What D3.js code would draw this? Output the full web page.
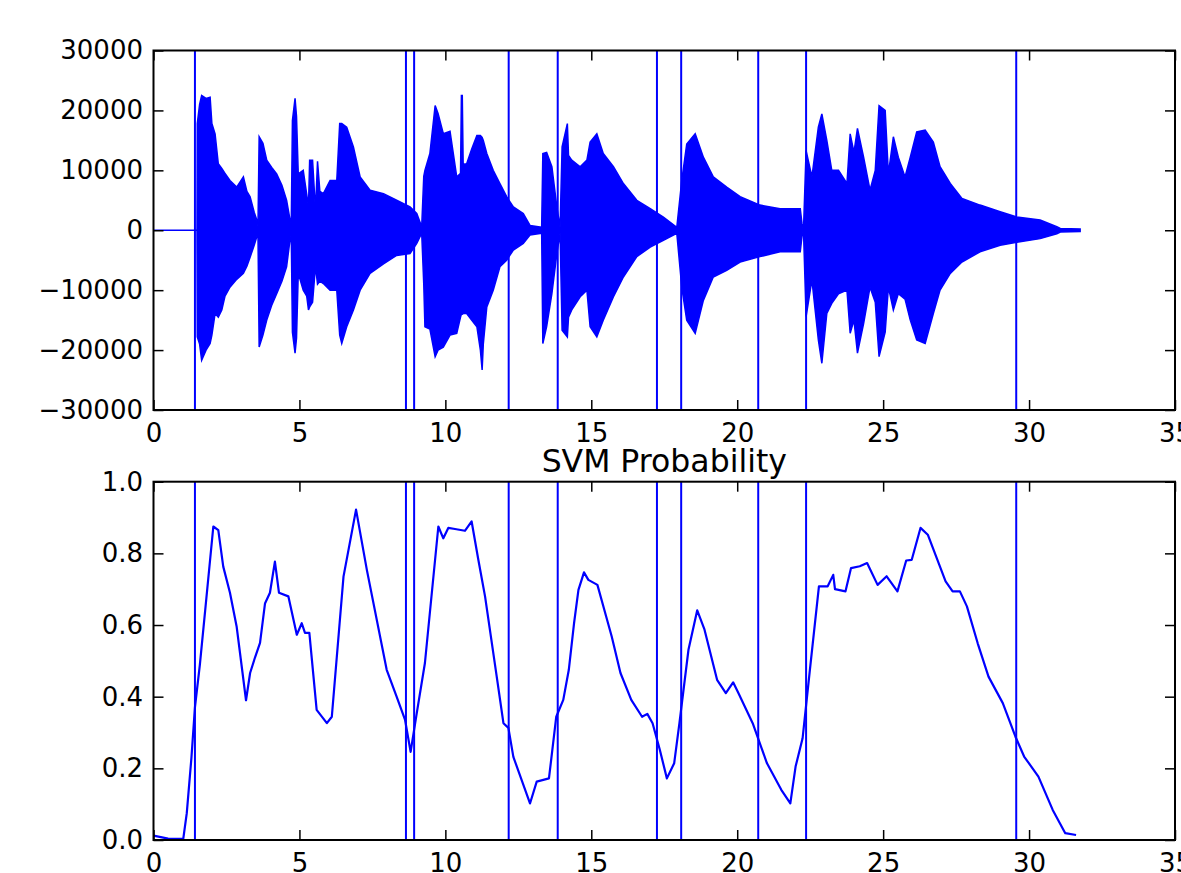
<!DOCTYPE html>
<html>
<head>
<meta charset="utf-8">
<script src="https://cdn.jsdelivr.net/npm/d3@7"></script>
<style>
  body { margin: 0; background: #fff; }
  svg { display: block; font-family: "DejaVu Sans", sans-serif; }
  .tick text { font-size: 26px; fill: #000; }
  .tick line { stroke: #000; stroke-width: 1.5; }
</style>
</head>
<body>
<svg></svg>
<script>
const width = 1181, height = 873;

// tick values
const xTicks = [0, 5, 10, 15, 20, 25, 30, 35];
const ampTicks = [-30000, -20000, -10000, 0, 10000, 20000, 30000];
const probTicks = [0, 0.2, 0.4, 0.6, 0.8, 1.0];

// detected segment boundaries (seconds)
const boundaries = [1.42, 8.65, 8.93, 12.17, 13.85, 17.25, 18.08, 20.72, 22.36, 29.56];

// waveform envelope (seconds, max, min)
const waveTime = [0, 1.49, 1.50, 1.58, 1.65, 1.80, 1.94, 2.00, 2.11, 2.22, 2.34, 2.45, 2.62, 2.85, 3.08, 3.20, 3.31, 3.45, 3.54, 3.58,
  3.62, 3.75, 3.88, 4.05, 4.22, 4.40, 4.56, 4.68, 4.72, 4.76, 4.85, 4.90, 4.96, 5.13, 5.25, 5.31, 5.35, 5.45, 5.55, 5.62,
  5.70, 5.82, 6.05, 6.28, 6.38, 6.45, 6.62, 6.85, 7.08, 7.42, 7.88, 8.33, 8.79, 9.02, 9.19, 9.26, 9.30, 9.47, 9.65, 9.75,
  9.93, 10.16, 10.39, 10.52, 10.55, 10.58, 10.61, 10.73, 10.90, 11.08, 11.20, 11.26, 11.30, 11.42, 11.64, 11.87, 12.10, 12.33, 12.67, 12.90,
  13.30, 13.34, 13.47, 13.65, 13.82, 13.93, 14.00, 14.18, 14.22, 14.33, 14.62, 14.85, 14.96, 15.19, 15.41, 15.76, 16.10, 16.56, 17.02, 17.47,
  17.93, 18.10, 18.27, 18.56, 18.84, 19.18, 19.64, 20.10, 20.78, 21.47, 22.16, 22.22, 22.27, 22.36, 22.56, 22.78, 22.90, 23.07, 23.24, 23.47,
  23.76, 23.87, 24.00, 24.12, 24.33, 24.55, 24.73, 24.86, 25.07, 25.18, 25.35, 25.52, 25.75, 25.93, 26.15, 26.44, 26.72, 26.95, 27.30, 27.70,
  28.32, 29.01, 29.58, 30.38, 30.95, 31.07, 31.75];
const waveUpper = [0, 0, 17800, 21000, 22500, 22000, 22200, 17800, 16100, 11100, 10300, 9500, 8300, 7200, 8900, 6500, 5600, 3000, 1700, 800,
  15600, 14500, 11700, 10500, 9400, 7500, 5000, 1700, 1000, 18300, 22000, 19000, 9400, 10000, 6000, 3900, 11700, 11700, 3300, 11500,
  6500, 6100, 8300, 8300, 17800, 17800, 17200, 13900, 8900, 6700, 6100, 5000, 3900, 2800, 600, 9000, 10000, 12800, 20800, 19500,
  16100, 16500, 8900, 9500, 22500, 22500, 11000, 11100, 13500, 15800, 15800, 15500, 15000, 12800, 10000, 7800, 5600, 3900, 2800, 800,
  500, 12800, 13000, 10600, 3900, 500, 13900, 17800, 12500, 11700, 10600, 11700, 14700, 16100, 12800, 10600, 7800, 5000, 3600, 2200,
  500, 8300, 14400, 16100, 12200, 8900, 7200, 5600, 4200, 3600, 3600, 1100, 0, 13300, 8900, 17200, 19400, 15000, 10000, 10000,
  7800, 16100, 13000, 17000, 12200, 6700, 10000, 20800, 20000, 9400, 15600, 12200, 8900, 12200, 16400, 16700, 14700, 10600, 7800, 5300,
  4200, 3100, 2200, 1700, 600, 300, 200];
const waveLower = [0, 0, -17800, -19000, -21700, -20000, -18900, -17500, -13900, -14500, -13300, -11000, -9500, -8200, -7200, -6000, -4500, -2500, -1100, -600,
  -19500, -17500, -15000, -12500, -10600, -8500, -6100, -1500, -800, -17000, -20500, -18000, -7200, -10000, -11000, -13300, -12800, -12000, -6000, -9000,
  -8500, -8900, -10000, -10000, -17500, -18900, -16100, -13300, -10000, -7200, -5600, -4200, -3900, -2200, -500, -9000, -16100, -16500, -21100, -20000,
  -19500, -17500, -17200, -14500, -14000, -14000, -13900, -13900, -15000, -16100, -20000, -23300, -19000, -12800, -10000, -6100, -5000, -3300, -2200, -800,
  -500, -18900, -16100, -10600, -3900, -500, -16700, -17800, -14500, -13300, -11100, -10000, -16100, -17800, -15000, -11100, -7800, -4400, -2800, -1700,
  -500, -9500, -15000, -17200, -11700, -7800, -6700, -5300, -4400, -3600, -3600, -1000, 0, -14400, -8300, -18300, -22200, -13900, -12200, -10600,
  -10000, -17200, -15000, -20500, -15600, -9500, -12000, -21100, -17000, -9500, -13300, -10600, -11500, -15000, -18300, -18900, -13900, -10000, -7200, -5300,
  -3600, -2500, -2000, -1400, -600, -300, -200];

// SVM probability curve
const probTime = [0, 0.50, 1.02, 1.14, 1.30, 1.42, 1.59, 1.77, 2.05, 2.22, 2.39, 2.62, 2.85, 3.17, 3.31, 3.48, 3.65, 3.82, 3.99, 4.16,
  4.30, 4.62, 4.91, 5.08, 5.19, 5.34, 5.59, 5.94, 6.11, 6.51, 6.94, 7.31, 7.99, 8.33, 8.62, 8.81, 9.02, 9.30, 9.76, 9.93,
  10.10, 10.33, 10.67, 10.90, 11.13, 11.36, 11.76, 11.99, 12.16, 12.33, 12.90, 13.13, 13.55, 13.80, 14.04, 14.23, 14.41, 14.56, 14.75, 14.90,
  15.21, 15.51, 15.70, 16.00, 16.37, 16.74, 16.92, 17.10, 17.35, 17.59, 17.84, 18.02, 18.33, 18.63, 18.88, 19.31, 19.61, 19.86, 20.04, 20.53,
  21.02, 21.51, 21.82, 22.00, 22.24, 22.49, 22.80, 23.10, 23.29, 23.35, 23.71, 23.90, 24.20, 24.45, 24.81, 25.12, 25.49, 25.79, 25.98, 26.28,
  26.53, 27.14, 27.38, 27.63, 27.87, 28.24, 28.61, 29.10, 29.53, 29.83, 30.32, 30.81, 31.24, 31.61];
const probValue = [0.012, 0.004, 0.003, 0.075, 0.23, 0.37, 0.49, 0.64, 0.875, 0.865, 0.763, 0.69, 0.595, 0.39, 0.466, 0.51, 0.55, 0.66, 0.69, 0.777,
  0.69, 0.68, 0.573, 0.605, 0.578, 0.578, 0.363, 0.326, 0.344, 0.735, 0.922, 0.754, 0.475, 0.40, 0.335, 0.246, 0.354, 0.494, 0.875, 0.842,
  0.871, 0.868, 0.863, 0.889, 0.782, 0.68, 0.456, 0.326, 0.313, 0.232, 0.102, 0.163, 0.172, 0.344, 0.391, 0.475, 0.605, 0.698, 0.747, 0.726,
  0.712, 0.624, 0.568, 0.466, 0.391, 0.344, 0.352, 0.326, 0.251, 0.172, 0.214, 0.326, 0.531, 0.641, 0.587, 0.447, 0.41, 0.44, 0.41, 0.326,
  0.214, 0.14, 0.102, 0.205, 0.284, 0.475, 0.708, 0.708, 0.74, 0.70, 0.694, 0.759, 0.764, 0.773, 0.712, 0.736, 0.694, 0.78, 0.782, 0.871,
  0.852, 0.722, 0.694, 0.694, 0.652, 0.549, 0.456, 0.382, 0.289, 0.233, 0.177, 0.084, 0.019, 0.014];

const blue = "#0000ff";
const left = 153.5, right = 1175;

const svg = d3.select("svg")
    .attr("width", width)
    .attr("height", height);

const xScale = d3.scaleLinear().domain([0, 35]).range([left, right]);
const yAmp = d3.scaleLinear().domain([-30000, 30000]).range([410, 50.5]);
const yProb = d3.scaleLinear().domain([0, 1]).range([840, 481.7]);

// draw matplotlib-like frame with inward ticks on all four sides
const drawFrame = (yScale, yTicks, yFormat) => {
    const [y0, y1] = yScale.range();
    const g = svg.append("g");

    g.append("g")
        .attr("transform", `translate(0,${y0})`)
        .call(d3.axisBottom(xScale).tickValues(xTicks).tickSizeInner(-10).tickSizeOuter(0).tickPadding(13.5).tickFormat(d3.format("d")));
    g.append("g")
        .attr("transform", `translate(0,${y1})`)
        .call(d3.axisTop(xScale).tickValues(xTicks).tickSizeInner(-10).tickSizeOuter(0).tickFormat(""));
    g.append("g")
        .attr("transform", `translate(${left},0)`)
        .call(d3.axisLeft(yScale).tickValues(yTicks).tickSizeInner(-10).tickSizeOuter(0).tickPadding(10.5).tickFormat(yFormat));
    g.append("g")
        .attr("transform", `translate(${right},0)`)
        .call(d3.axisRight(yScale).tickValues(yTicks).tickSizeInner(-10).tickSizeOuter(0).tickFormat(""));

    g.selectAll(".domain").remove();
    g.selectAll(".tick text").attr("font-family", "DejaVu Sans").attr("font-size", 26);

    svg.append("rect")
        .attr("x", left)
        .attr("y", y1)
        .attr("width", right - left)
        .attr("height", y0 - y1)
        .attr("fill", "none")
        .attr("stroke", "#000")
        .attr("stroke-width", 2);
};

const drawBoundaries = (yScale) => {
    const [y0, y1] = yScale.range();
    svg.append("g").selectAll("line")
        .data(boundaries)
        .enter().append("line")
        .attr("x1", d => xScale(d))
        .attr("x2", d => xScale(d))
        .attr("y1", y0)
        .attr("y2", y1)
        .attr("stroke", blue)
        .attr("stroke-width", 2);
};

// top: waveform
const wave = waveTime.map((t, i) => ({ t, hi: waveUpper[i], lo: waveLower[i] }));
const area = d3.area()
    .x(d => xScale(d.t))
    .y0(d => yAmp(d.lo))
    .y1(d => yAmp(d.hi));

svg.append("path")
    .datum(wave)
    .attr("d", area)
    .attr("fill", blue)
    .attr("stroke", blue)
    .attr("stroke-width", 1.5)
    .attr("stroke-linejoin", "miter");

drawBoundaries(yAmp);
drawFrame(yAmp, ampTicks, d3.format("d"));

// bottom: SVM probability
const prob = probTime.map((t, i) => ({ t, p: probValue[i] }));
const line = d3.line()
    .x(d => xScale(d.t))
    .y(d => yProb(d.p));

svg.append("path")
    .datum(prob)
    .attr("d", line)
    .attr("fill", "none")
    .attr("stroke", blue)
    .attr("stroke-width", 2.2)
    .attr("stroke-linejoin", "round");

drawBoundaries(yProb);
drawFrame(yProb, probTicks, d3.format(".1f"));

svg.append("text")
    .attr("x", (left + right) / 2)
    .attr("y", 472)
    .attr("text-anchor", "middle")
    .attr("font-size", 31.5)
    .attr("fill", "#000")
    .text("SVM Probability");
</script>
</body>
</html>
